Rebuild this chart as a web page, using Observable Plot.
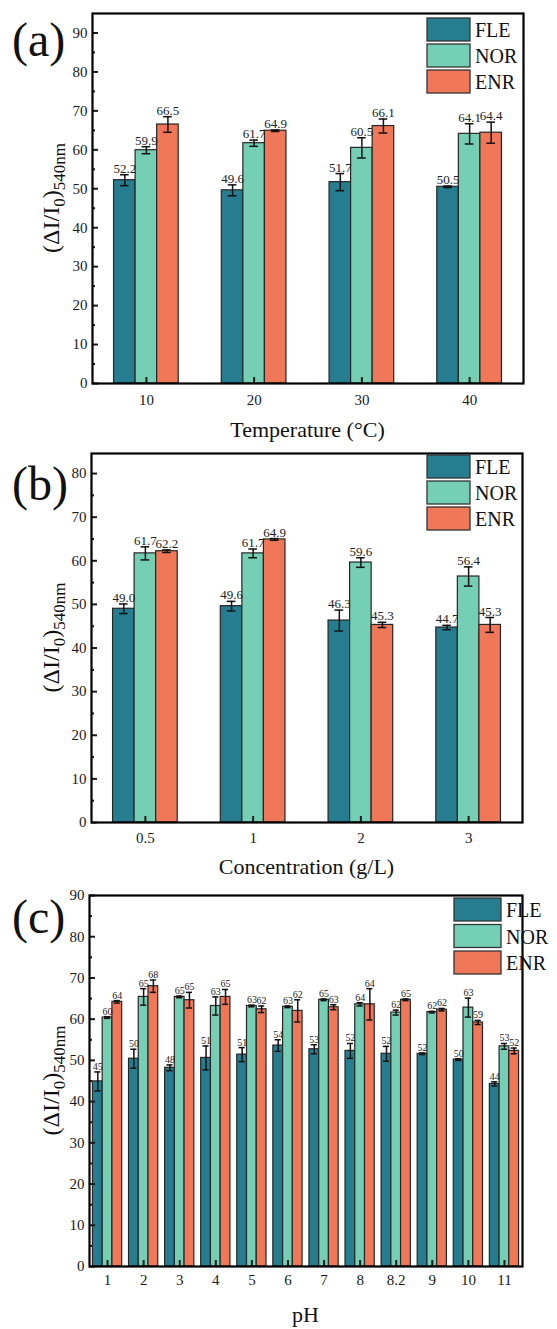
<!DOCTYPE html>
<html><head><meta charset="utf-8">
<script src="https://cdn.jsdelivr.net/npm/d3@7"></script>
<script src="https://cdn.jsdelivr.net/npm/@observablehq/plot@0.6"></script>
<style>
body{margin:0;background:#fff;}
#root{width:557px;}
#root svg{display:block;}
#root svg, #root svg text, #root svg tspan{font-family:"Liberation Serif","Times New Roman","DejaVu Serif",serif !important;}
</style></head><body><div id="root"></div>
<script>
const series = ["FLE", "NOR", "ENR"];
const colors = ["#267D8F", "#74CFB5", "#F07757"];

// (a) Temperature
const tempCats = ["10", "20", "30", "40"];
const tempFLE = [52.2, 49.6, 51.7, 50.5];
const tempNOR = [59.9, 61.7, 60.5, 64.1];
const tempENR = [66.5, 64.9, 66.1, 64.4];
const tempErrFLE = [1.4, 1.4, 2.2, 0.2];
const tempErrNOR = [0.9, 0.8, 2.6, 2.6];
const tempErrENR = [2.0, 0.2, 1.8, 2.7];

// (b) Concentration
const concCats = ["0.5", "1", "2", "3"];
const concFLE = [49.0, 49.6, 46.3, 44.7];
const concNOR = [61.7, 61.7, 59.6, 56.4];
const concENR = [62.2, 64.9, 45.3, 45.3];
const concErrFLE = [1.1, 1.1, 2.4, 0.5];
const concErrNOR = [1.5, 1.0, 1.1, 2.2];
const concErrENR = [0.3, 0.2, 0.6, 1.7];

// (c) pH
const phCats = ["1", "2", "3", "4", "5", "6", "7", "8", "8.2", "9", "10", "11"];
const phFLE = [44.9, 50.4, 48.2, 50.6, 51.4, 53.6, 52.7, 52.3, 51.6, 51.6, 50.2, 44.3];
const phNOR = [60.4, 65.4, 65.4, 63.2, 63.2, 63.0, 64.7, 63.6, 61.6, 61.7, 62.8, 53.4];
const phENR = [64.2, 68.0, 64.6, 65.4, 62.4, 62.0, 62.9, 63.6, 64.7, 62.3, 59.2, 52.3];
const phErrFLE = [2.3, 2.3, 0.7, 2.9, 1.7, 1.4, 1.1, 1.8, 1.8, 0.2, 0.2, 0.5];
const phErrNOR = [0.2, 2.0, 0.2, 2.2, 0.2, 0.2, 0.2, 0.4, 0.6, 0.2, 2.3, 0.7];
const phErrENR = [0.3, 1.5, 1.9, 1.8, 0.8, 2.7, 0.6, 3.8, 0.2, 0.3, 0.5, 0.7];

const yMajorA = [0, 10, 20, 30, 40, 50, 60, 70, 80, 90];
const yMajorB = [0, 10, 20, 30, 40, 50, 60, 70, 80];
const yMajorC = [0, 10, 20, 30, 40, 50, 60, 70, 80, 90];

const FONT = "Liberation Serif, Times New Roman, DejaVu Serif, serif";

function panel(cfg) {
  const n = cfg.cats.length;
  const rows = [];
  cfg.cats.forEach((c, i) => series.forEach((s, j) => {
    const v = cfg.vals[j][i], e = cfg.errs[j][i];
    const xc = i + (j - 1) * cfg.barW;
    rows.push({s, xc, x1: xc - cfg.barW / 2, x2: xc + cfg.barW / 2, v, lo: v - e, hi: v + e,
      cl: xc - cfg.cap, cr: xc + cfg.cap, label: cfg.fmt(v)});
  }));
  const minor = cfg.major.slice(0, -1).map(d => d + 5).filter(d => d < cfg.ymax);
  const svgEl = Plot.plot({
    width: 557, height: cfg.height,
    marginLeft: cfg.ml, marginRight: cfg.mr, marginTop: cfg.mt, marginBottom: cfg.mb,
    style: {fontSize: "15px", color: "#1a1a1a", background: "#fff", overflow: "visible"},
    x: {domain: [-0.5, n - 0.5]},
    y: {domain: [0, cfg.ymax]},
    color: {domain: series, range: colors},
    marks: [
      Plot.rectY(rows, {x1: "x1", x2: "x2", y1: 0, y2: "v", fill: "s", stroke: "#262626", strokeWidth: 1.2}),
      Plot.ruleX(rows, {x: "xc", y1: "lo", y2: "hi", stroke: "#111", strokeWidth: 1.5}),
      Plot.ruleY(rows, {y: "lo", x1: "cl", x2: "cr", stroke: "#111", strokeWidth: 1.5}),
      Plot.ruleY(rows, {y: "hi", x1: "cl", x2: "cr", stroke: "#111", strokeWidth: 1.5}),
      Plot.text(rows, {x: "xc", y: "hi", text: "label", lineAnchor: "bottom", dy: -2, fontSize: cfg.labelSize, fill: "#222"}),
      Plot.axisY({ticks: cfg.major, tickSize: -6, tickPadding: 11, strokeWidth: 2, label: null, fontSize: 15}),
      Plot.axisY({ticks: minor, tickSize: -3, tickFormat: () => "", strokeWidth: 2, label: null}),
      Plot.axisX({ticks: d3.range(n), tickFormat: i => cfg.cats[i], tickSize: -6, tickPadding: cfg.xPad, strokeWidth: 2, label: null, fontSize: 15}),
      Plot.frame({stroke: "#000", strokeWidth: 2.2})
    ]
  });
  const svg = d3.select(svgEl);
  // panel letter
  svg.append("text").attr("x", 12).attr("y", cfg.letterY).attr("text-anchor", "start")
    .attr("font-size", 48).attr("fill", "#111").text(cfg.letter);
  // y label
  const cy = cfg.mt + (cfg.height - cfg.mt - cfg.mb) / 2;
  const t = svg.append("text").attr("transform", `translate(59,${cy}) rotate(-90)`)
    .attr("text-anchor", "middle").attr("font-size", 24).attr("fill", "#111");
  t.append("tspan").text("(ΔI/I");
  t.append("tspan").attr("font-size", 17).attr("dy", 6).text("0");
  t.append("tspan").attr("font-size", 24).attr("dy", -6).text(")");
  t.append("tspan").attr("font-size", 17).attr("dy", 6).text("540nm");
  // x label
  const cx = cfg.ml + (557 - cfg.ml - cfg.mr) / 2;
  svg.append("text").attr("x", cx).attr("y", cfg.xLabelY).attr("text-anchor", "middle")
    .attr("font-size", 22).attr("fill", "#111").text(cfg.xlabel);
  // legend
  series.forEach((s, j) => {
    const y = cfg.legY + j * cfg.legStep;
    svg.append("rect").attr("x", cfg.legX).attr("y", y).attr("width", cfg.legW).attr("height", 23)
      .attr("fill", colors[j]).attr("stroke", "#333").attr("stroke-width", 1.3);
    svg.append("text").attr("x", cfg.legX + cfg.legW + 5).attr("y", y + 19).attr("text-anchor", "start")
      .attr("font-size", 20).attr("fill", "#111").text(s);
  });
  document.getElementById("root").appendChild(svgEl);
}

panel({cats: tempCats, vals: [tempFLE, tempNOR, tempENR], errs: [tempErrFLE, tempErrNOR, tempErrENR],
  height: 445, mt: 13, mb: 62, ml: 92, mr: 34, ymax: 95, major: yMajorA, barW: 0.2, cap: 0.04,
  fmt: d3.format(".1f"), labelSize: 13, xPad: 17, letter: "(a)", letterY: 56, xlabel: "Temperature (°C)", xLabelY: 437,
  legX: 427, legY: 18, legStep: 26, legW: 43});

panel({cats: concCats, vals: [concFLE, concNOR, concENR], errs: [concErrFLE, concErrNOR, concErrENR],
  height: 435, mt: 8, mb: 58, ml: 91, mr: 35, ymax: 84.6, major: yMajorB, barW: 0.2, cap: 0.04,
  fmt: d3.format(".1f"), labelSize: 13, xPad: 16, letter: "(b)", letterY: 55, xlabel: "Concentration (g/L)", xLabelY: 429,
  legX: 427, legY: 10, legStep: 26, legW: 43});

panel({cats: phCats, vals: [phFLE, phNOR, phENR], errs: [phErrFLE, phErrNOR, phErrENR],
  height: 449, mt: 15, mb: 63, ml: 89, mr: 35, ymax: 90, major: yMajorC, barW: 0.27, cap: 0.085,
  fmt: d => String(Math.round(d)), labelSize: 10, xPad: 14, letter: "(c)", letterY: 53, xlabel: "pH", xLabelY: 442,
  legX: 454, legY: 18, legStep: 26.5, legW: 47});
</script>
</body></html>
